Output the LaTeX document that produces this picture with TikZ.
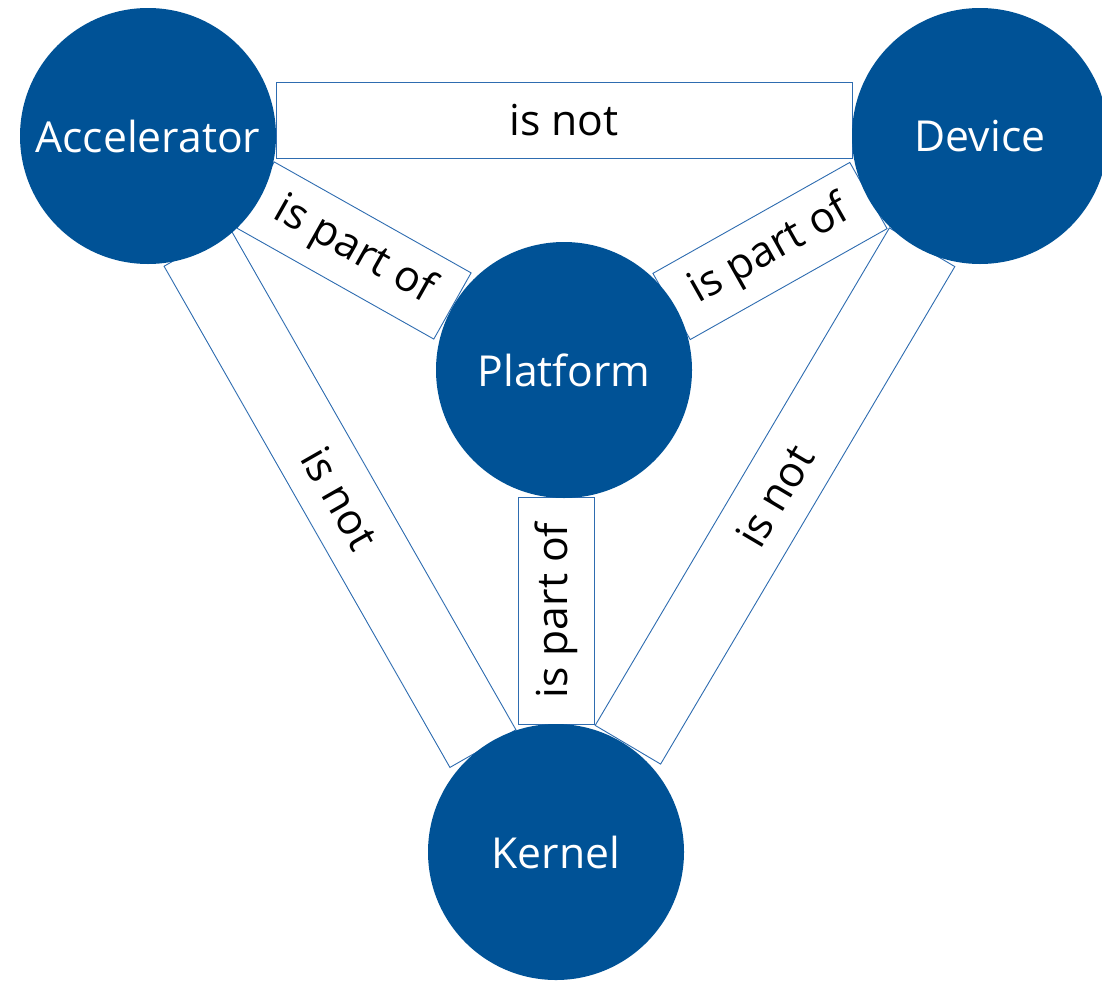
\documentclass[tikz,border=0pt]{standalone}
\usepackage{fontspec}
\setmainfont{Open Sans}
\definecolor{nodeblue}{RGB}{0,82,150}
\definecolor{boxblue}{RGB}{46,108,176}
\begin{document}
\begin{tikzpicture}[x=1pt,y=-1pt,
  every node/.style={font=\fontsize{42.67}{50}\selectfont},
  concept/.style={circle,fill=nodeblue,draw=none,minimum size=256pt,inner sep=0pt,text=white},
  relbox/.style={rectangle,draw=boxblue,line width=0.9pt,fill=white,minimum height=76pt,inner sep=0pt,text=black}
]
\useasboundingbox (0,0) rectangle (1102,980);
% relation boxes (drawn first, behind the circles)
\node[relbox,minimum width=576pt] (accdev) at (564,120) {is not};
\node[relbox,minimum width=226pt,rotate=-29.4] (accplat) at (354,250.5) {is part of};
\node[relbox,minimum width=226pt,rotate=29.4] (platdev) at (770,251) {is part of};
\node[relbox,minimum width=227pt,rotate=90] (platker) at (556,610.5) {is part of};
\node[relbox,minimum width=577pt,rotate=-60.3] (accker) at (340,498) {is not};
\node[relbox,minimum width=578pt,rotate=59.4] (devker) at (775,496) {is not};
% concept circles
\node[concept] (acc) at (148,136) {Accelerator};
\node[concept] (dev) at (980,136) {Device};
\node[concept] (plat) at (564,370) {Platform};
\node[concept] (ker) at (556,852) {Kernel};
\end{tikzpicture}
\end{document}
